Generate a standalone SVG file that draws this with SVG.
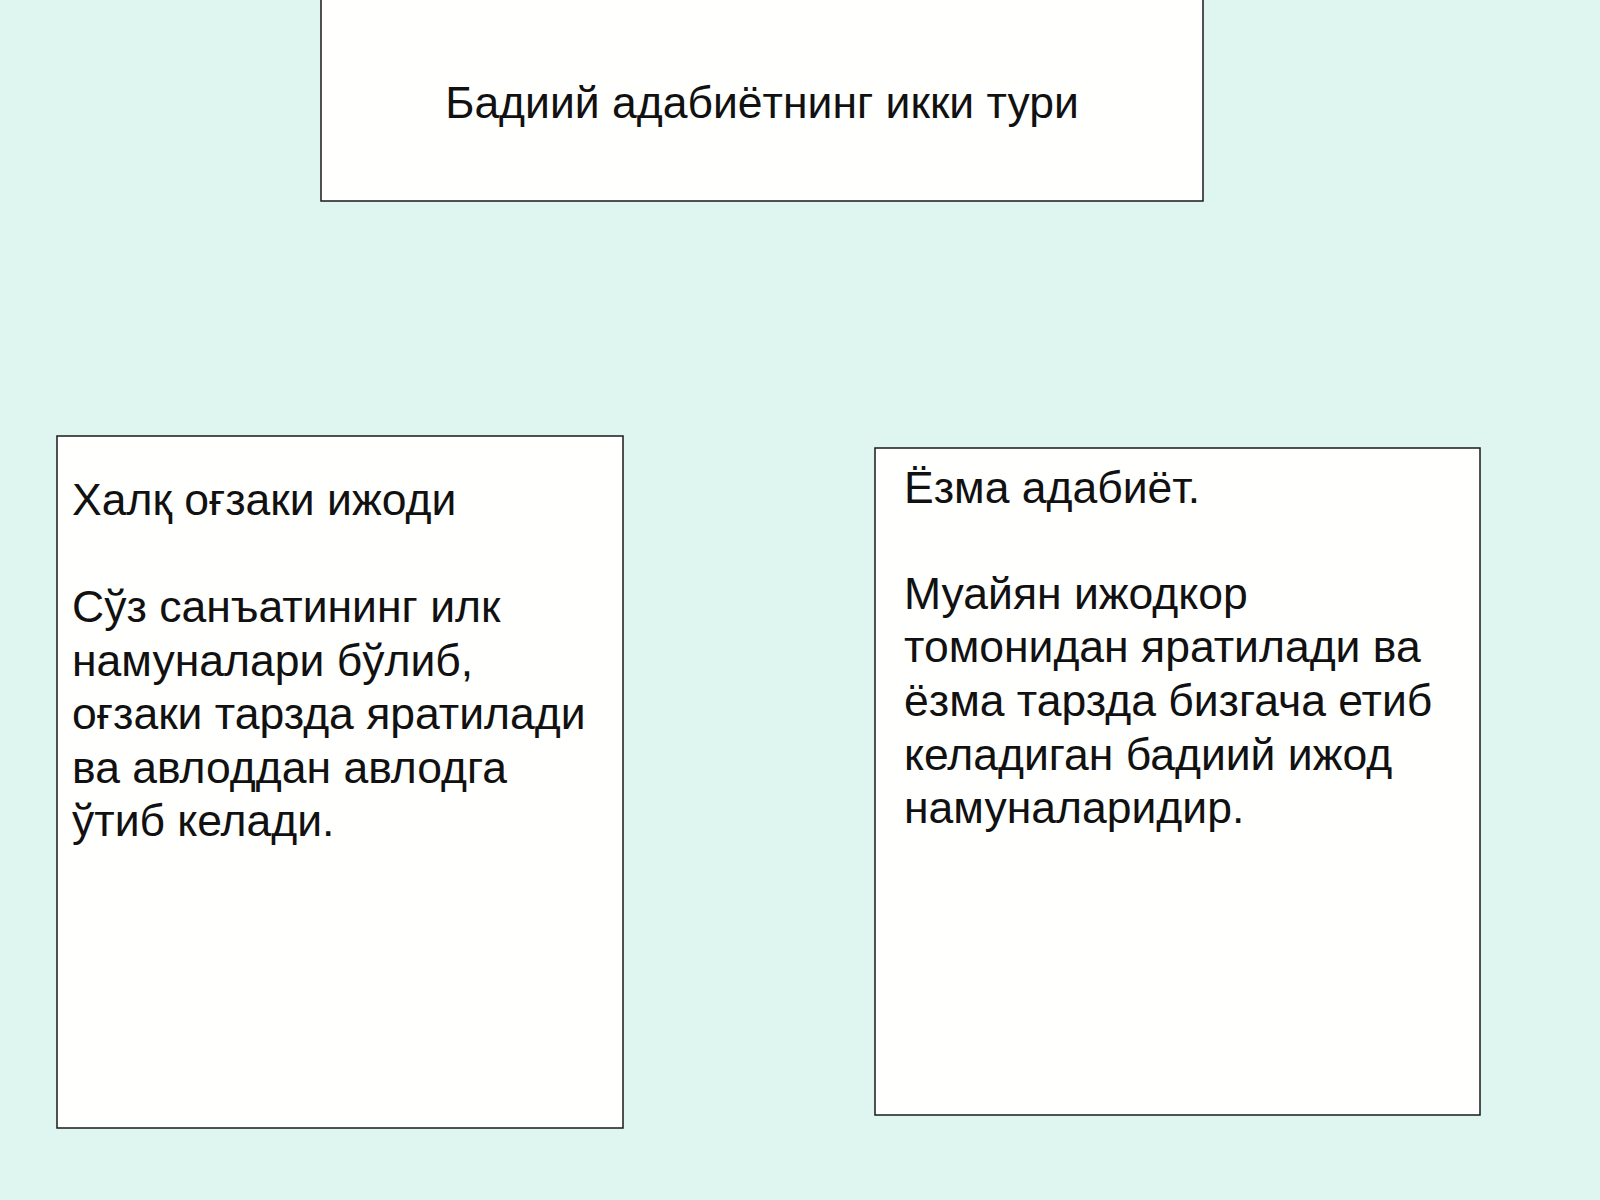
<svg xmlns="http://www.w3.org/2000/svg" width="1600" height="1200" viewBox="0 0 1600 1200">
<style>
.box{fill:#fffffe;stroke:#1a1a1a;stroke-width:1.5}
.t{font-family:"Liberation Sans",Arial,sans-serif;fill:#111}
.title{font-size:44.5px}
.body{font-size:44.5px}
</style>
<rect x="0" y="0" width="1600" height="1200" fill="#dff5f0"/>
<g id="title">
<rect class="box" x="321" y="-1" width="882" height="202"/>
<text class="t title" x="762" y="118" text-anchor="middle">Бадиий адабиётнинг икки тури</text>
</g>
<g id="oral">
<rect class="box" x="57" y="436" width="566" height="692"/>
<text class="t body" x="72">
<tspan x="72" y="515">Халқ оғзаки ижоди</tspan>
<tspan x="72" y="622">Сўз санъатининг илк</tspan>
<tspan x="72" y="675.5">намуналари бўлиб,</tspan>
<tspan x="72" y="729">оғзаки тарзда яратилади</tspan>
<tspan x="72" y="782.5">ва авлоддан авлодга</tspan>
<tspan x="72" y="836">ўтиб келади.</tspan>
</text>
</g>
<g id="written">
<rect class="box" x="875" y="448" width="605" height="667"/>
<text class="t body" x="904">
<tspan x="904" y="503">Ёзма адабиёт.</tspan>
<tspan x="904" y="609">Муайян ижодкор</tspan>
<tspan x="904" y="662">томонидан яратилади ва</tspan>
<tspan x="904" y="716">ёзма тарзда бизгача етиб</tspan>
<tspan x="904" y="769.5">келадиган бадиий ижод</tspan>
<tspan x="904" y="822.5">намуналаридир.</tspan>
</text>
</g>
<g id="connectors"></g>
</svg>
